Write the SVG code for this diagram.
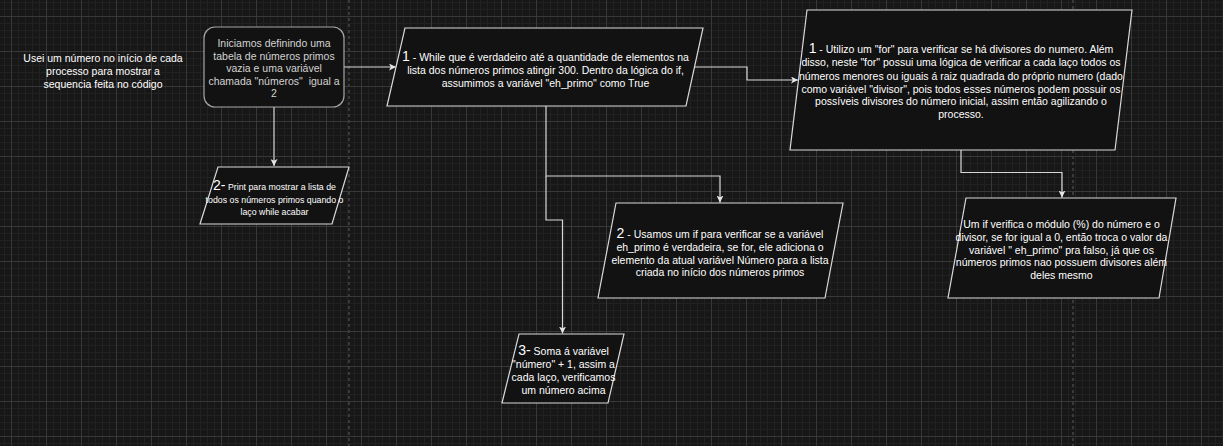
<svg xmlns="http://www.w3.org/2000/svg" width="1223" height="446" viewBox="0 0 1223 446">
<style>
text{font-family:"Liberation Sans",Arial,Helvetica,sans-serif;font-size:10.5px;fill:#ffffff;text-anchor:middle}
.big{font-size:14px}
.small{font-size:8.8px}
.gray{fill:#d2d2d2}
.shape{fill:#121212;stroke:#d9d9d9;stroke-width:1.2}
.round{fill:#121212;stroke:#a6a6a6;stroke-width:1.2}
.edge{fill:none;stroke:#d9d9d9;stroke-width:1.2;marker-end:url(#arrow)}
.pagebreak{stroke:#3a3a3a;stroke-width:2;stroke-dasharray:3 3}
</style>
<defs>
<pattern id="minor" x="11" y="16" width="7" height="7" patternUnits="userSpaceOnUse">
<rect x="0" y="0" width="7" height="1" fill="#212121"/>
<rect x="0" y="0" width="1" height="7" fill="#212121"/>
</pattern>
<pattern id="major" x="11" y="16" width="35" height="35" patternUnits="userSpaceOnUse">
<rect x="0" y="0" width="35" height="1" fill="#383838"/>
<rect x="0" y="0" width="1" height="35" fill="#383838"/>
</pattern>
<marker id="arrow" viewBox="0 0 7 7" refX="7" refY="3.5" markerWidth="7" markerHeight="7" markerUnits="userSpaceOnUse" orient="auto">
<path d="M0,0 L7,3.5 L0,7 L1.8,3.5 Z" fill="#e6e6e6"/>
</marker>
</defs>
<g id="background">
<rect width="1223" height="446" fill="#171717"/>
<rect width="1223" height="446" fill="url(#minor)"/>
<rect width="1223" height="446" fill="url(#major)"/>
<line class="pagebreak" x1="349" y1="0" x2="349" y2="446"/>
<line class="pagebreak" x1="1073" y1="0" x2="1073" y2="446"/>
</g>
<g id="connectors">
<path class="edge" d="M274 107 V166"/>
<path class="edge" d="M344 67 H396"/>
<path class="edge" d="M694.5 67 H747 V80 H798"/>
<path class="edge" d="M961 150 V172.5 H1062 V197.5"/>
<path class="edge" d="M546 106 V176 H720 V202.5"/>
<path class="edge" d="M546 176 V220 H562.5 V333.5"/>
</g>
<g id="note">
<text x="103" y="62">Usei um número no início de cada</text>
<text x="103" y="75">processo para mostrar a</text>
<text x="103" y="88">sequencia feita no código</text>
</g>
<g id="start">
<rect class="round" x="204" y="27" width="140" height="80" rx="11" ry="11"/>
<text class="gray" x="274" y="47">Iniciamos definindo uma</text>
<text class="gray" x="274" y="59.5">tabela de números primos</text>
<text class="gray" x="274" y="72">vazia e uma variável</text>
<text class="gray" x="274" y="84.5">chamada "números"&#160; igual a</text>
<text class="gray" x="274" y="97">2</text>
</g>
<g id="print">
<polygon class="shape" points="218,167 349,167 332,224 200,224"/>
<text x="274.5" y="190"><tspan class="big">2-</tspan><tspan class="small"> Print para mostrar a lista de</tspan></text>
<text class="small" x="274.5" y="202.5">todos os números primos quando o</text>
<text class="small" x="274.5" y="215">laço while acabar</text>
</g>
<g id="while">
<polygon class="shape" points="405,28 703,28 686,106 387,106"/>
<text x="545.5" y="61"><tspan class="big">1</tspan><tspan> - While que é verdadeiro até a quantidade de elementos na</tspan></text>
<text x="545.5" y="74">lista dos números primos atingir 300. Dentro da lógica do if,</text>
<text x="545.5" y="86.5">assumimos a variável "eh_primo" como True</text>
</g>
<g id="for">
<polygon class="shape" points="807,10 1132,10 1115,150 790,150"/>
<text x="961" y="53"><tspan class="big">1</tspan><tspan> - Utilizo um "for" para verificar se há divisores do numero. Além</tspan></text>
<text x="961" y="66">disso, neste "for" possui uma lógica de verificar a cada laço todos os</text>
<text x="961" y="79.5">números menores ou iguais á raiz quadrada do próprio numero (dado</text>
<text x="961" y="92.5">como variável "divisor", pois todos esses números podem possuir os</text>
<text x="961" y="105">possíveis divisores do número inicial, assim então agilizando o</text>
<text x="961" y="117.5">processo.</text>
</g>
<g id="modulo">
<polygon class="shape" points="966,198 1176,198 1159,298 948,298"/>
<text x="1061.5" y="228">Um if verifica o módulo (%) do número e o</text>
<text x="1061.5" y="241">divisor, se for igual a 0, então troca o valor da</text>
<text x="1061.5" y="253.5">variável " eh_primo" pra falso, já que os</text>
<text x="1061.5" y="266">números primos nao possuem divisores além</text>
<text x="1061.5" y="279">deles mesmo</text>
</g>
<g id="ifprimo">
<polygon class="shape" points="616,203 843,203 825,298 598,298"/>
<text x="720" y="237.5"><tspan class="big">2</tspan><tspan> - Usamos um if para verificar se a variável</tspan></text>
<text x="720" y="251">eh_primo é verdadeira, se for, ele adiciona o</text>
<text x="720" y="264">elemento da atual variável Número para a lista</text>
<text x="720" y="276">criada no início dos números primos</text>
</g>
<g id="soma">
<polygon class="shape" points="519,334 624,334 608,403 502,403"/>
<text x="563.5" y="355"><tspan class="big">3-</tspan><tspan> Soma á variável</tspan></text>
<text x="563.5" y="368">"número" + 1, assim a</text>
<text x="563.5" y="381">cada laço, verificamos</text>
<text x="563.5" y="393.5">um número acima</text>
</g>
</svg>
